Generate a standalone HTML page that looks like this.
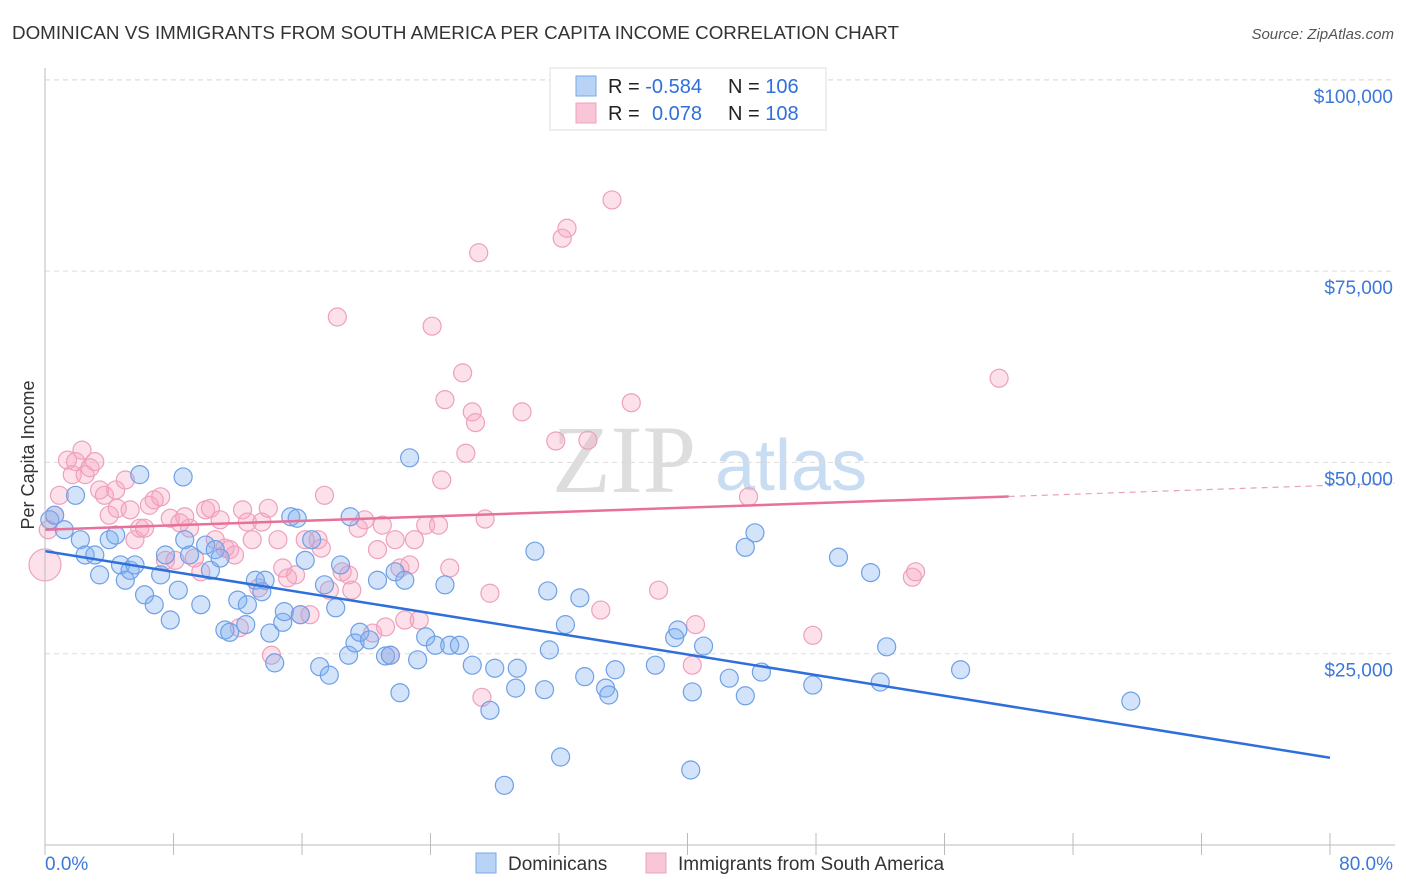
<!DOCTYPE html>
<html><head><meta charset="utf-8"><style>
body{margin:0;background:#fff;font-family:"Liberation Sans",sans-serif;}
#wrap{position:relative;width:1406px;height:892px;overflow:hidden;}
</style></head><body>
<div id="wrap">
<svg id="svg" width="1406" height="892" xmlns="http://www.w3.org/2000/svg">
<text x="12" y="39" font-size="18.8" fill="#333">DOMINICAN VS IMMIGRANTS FROM SOUTH AMERICA PER CAPITA INCOME CORRELATION CHART</text>
<text x="1394" y="39" font-size="15" fill="#555" font-style="italic" text-anchor="end">Source: ZipAtlas.com</text>
<text x="34" y="455" font-size="18" fill="#333" transform="rotate(-90 34 455)" text-anchor="middle">Per Capita Income</text>
<g><text x="552" y="492" font-size="96" fill="#ddd" font-family="Liberation Serif,serif">ZIP</text><text x="715" y="490" font-size="72" fill="#c8dcf2">atlas</text></g>
<g id="grid"></g><g id="pts"></g><g id="trend"></g><g id="axes"></g>
<g>
<rect x="550" y="68" width="276" height="62" fill="#fff" stroke="#ddd"/>
<rect x="576" y="76" width="20" height="20" fill="#b8d3f5" stroke="#7aaae8"/>
<rect x="576" y="103" width="20" height="20" fill="#f8c6d6" stroke="#f0a0bc"/>
<text x="608" y="93" font-size="20" fill="#222">R = <tspan fill="#2f6fdb">-0.584</tspan></text>
<text x="728" y="93" font-size="20" fill="#222">N = <tspan fill="#2f6fdb">106</tspan></text>
<text x="608" y="120" font-size="20" fill="#222">R = <tspan fill="#2f6fdb" x="652">0.078</tspan></text>
<text x="728" y="120" font-size="20" fill="#222">N = <tspan fill="#2f6fdb">108</tspan></text>
</g>
<g>
<rect x="476" y="853" width="20" height="20" fill="#b8d3f5" stroke="#7aaae8"/>
<text x="508" y="870" font-size="19" fill="#333">Dominicans</text>
<rect x="646" y="853" width="20" height="20" fill="#f8c6d6" stroke="#f0a0bc"/>
<text x="678" y="870" font-size="19" fill="#333">Immigrants from South America</text>
</g>
</svg>
</div>
<script>
const blueX=[0.3,0.6,1.2,1.9,2.2,2.5,3.1,3.4,4.0,4.4,4.7,5.0,5.3,5.6,5.9,6.2,6.8,7.2,7.5,7.8,8.3,8.6,8.7,9.0,9.7,10.0,10.3,10.6,10.9,11.2,11.5,12.0,12.5,12.6,13.1,13.5,13.7,14.0,14.3,14.8,14.9,15.3,15.7,15.9,16.2,16.6,17.1,17.4,17.7,18.1,18.4,18.9,19.0,19.3,19.6,20.2,20.7,21.2,21.5,21.8,22.1,22.4,22.7,23.2,23.7,24.3,24.9,25.2,25.8,26.6,27.7,28.0,28.6,29.3,29.4,30.5,31.1,31.3,31.4,32.1,32.4,33.3,33.6,34.9,35.1,35.5,38.0,39.2,39.4,40.2,40.3,41.0,42.6,43.6,43.6,44.2,44.6,47.8,49.4,51.4,52.0,52.4,57.0,67.6];
const blueY=[42.5,43.1,41.2,45.7,39.9,37.9,37.9,35.3,39.9,40.5,36.6,34.6,35.9,36.6,48.4,32.7,31.4,35.3,37.9,29.4,33.3,48.1,39.9,37.9,31.4,39.2,35.9,38.6,37.5,28.1,27.8,32.0,28.8,31.4,34.6,33.1,34.6,27.7,23.8,29.1,30.5,42.9,42.7,30.1,37.2,39.9,23.3,34.0,22.2,31.0,36.6,24.8,42.9,26.4,27.8,26.8,34.6,24.7,24.8,35.7,19.9,34.6,50.6,24.2,27.2,26.1,34.0,26.1,26.1,23.5,17.6,23.1,7.8,20.5,23.1,38.4,20.3,33.2,25.5,11.5,28.8,32.3,22.0,20.5,19.6,22.9,23.5,27.1,28.1,9.8,20.0,26.0,21.8,38.9,19.5,40.8,22.6,20.9,37.6,35.6,21.3,25.9,22.9,18.8];
const pinkX=[0,0.2,0.6,0.9,1.4,1.7,1.9,2.3,2.5,2.8,3.1,3.4,3.7,4.0,4.4,4.5,5.0,5.3,5.6,5.9,6.2,6.5,6.8,7.2,7.5,7.8,8.1,8.4,8.7,9.0,9.3,9.7,10.0,10.3,10.6,10.9,11.2,11.5,11.8,12.1,12.3,12.6,12.9,13.3,13.5,13.9,14.1,14.5,14.8,15.1,15.6,15.9,16.2,16.5,17.0,17.2,17.4,17.7,18.2,18.5,18.9,19.1,19.5,19.9,20.4,20.7,21.0,21.2,21.5,21.8,22.1,22.4,22.7,23.0,23.3,23.7,24.1,24.5,24.7,24.9,25.2,26.0,26.2,26.6,26.8,27.0,27.4,27.2,27.7,29.7,31.8,32.2,32.5,33.8,34.6,35.3,36.5,38.2,40.3,40.5,43.8,47.8,54.0,54.2,59.4];
const pinkY=[36.6,41.2,43.1,45.7,50.3,48.4,50.1,51.6,48.4,49.3,50.1,46.4,45.7,43.1,46.4,44.0,47.7,43.8,39.9,41.4,41.4,44.4,45.1,45.5,37.2,42.7,37.2,42.1,42.9,41.4,37.5,35.7,43.8,44.0,39.9,42.5,38.8,38.6,37.9,28.4,43.8,42.2,39.9,33.6,42.2,44.0,24.8,39.9,36.2,34.9,35.3,30.1,39.9,30.1,39.9,38.8,45.7,33.3,69.0,35.7,35.3,33.3,41.4,42.5,27.7,38.6,41.8,28.5,24.8,39.9,36.2,29.4,36.6,39.9,29.4,41.8,67.8,41.8,47.7,58.2,36.2,61.7,51.2,56.6,55.2,77.4,42.6,19.3,32.9,56.6,52.8,79.3,80.6,52.9,30.7,84.3,57.8,33.3,23.5,28.8,45.5,27.4,35.0,35.7,61.0];
const blueTrend=[38.4,11.4];
const pinkTrend=[41.2,47.0];
const yTicks=[25000,50000,75000,100000];
const yTickLabels=["$25,000","$50,000","$75,000","$100,000"];
const xTicks=[0,8,16,24,32,40,48,56,64,72,80];
const NS="http://www.w3.org/2000/svg";
const X=v=>45+v/80*1285;
const Y=k=>845-k/25*191.3;
function mk(tag,at,parent){const e=document.createElementNS(NS,tag);for(const k in at)e.setAttribute(k,at[k]);parent.appendChild(e);return e;}
const grid=document.getElementById('grid'),pts=document.getElementById('pts'),tr=document.getElementById('trend'),ax=document.getElementById('axes');
yTicks.forEach((t,i)=>{
 const l=mk('line',{x1:45,x2:1395,y1:Y(t/1000),y2:Y(t/1000),stroke:'#ddd','stroke-dasharray':'5,4'},grid);
 
 
 const tx=mk('text',{x:1393,y:Y(t/1000)+23,'text-anchor':'end','font-size':19,fill:'#3b78d8'},ax);
 tx.textContent=yTickLabels[i];
 
 
});
const topGrid=mk('line',{x1:45,x2:1395,y1:80,y2:80,stroke:'#ddd','stroke-dasharray':'5,4'},grid);


function dots(xs,ys,fill,stroke,name){xs.forEach((x,i)=>{
 const c=mk('circle',{cx:X(x),cy:Y(ys[i]),r:(x===0?16:9),fill:fill,stroke:stroke,'stroke-width':1.2},pts);
 
 
});}
dots(pinkX,pinkY,'rgba(245,165,195,0.35)','#eea0bc','immigrant-point');
dots(blueX,blueY,'rgba(125,175,240,0.35)','#6fa0e6','dominican-point');
const bl=mk('line',{x1:X(0),y1:Y(blueTrend[0]),x2:X(80),y2:Y(blueTrend[1]),stroke:'#2f6fdb','stroke-width':2.5},tr);


const py=x=>pinkTrend[0]+(pinkTrend[1]-pinkTrend[0])*x/80;
const pl=mk('line',{x1:X(0),y1:Y(py(0)),x2:X(60),y2:Y(py(60)),stroke:'#e8709a','stroke-width':2.5},tr);


const pd=mk('line',{x1:X(60),y1:Y(py(60)),x2:X(84),y2:Y(py(84)),stroke:'#e8a0ba','stroke-width':1.2,'stroke-dasharray':'6,5'},tr);


const ya=mk('line',{x1:45,x2:45,y1:68,y2:845,stroke:'#bbb'},ax);


const xa=mk('line',{x1:45,x2:1395,y1:845,y2:845,stroke:'#bbb'},ax);


xTicks.forEach(t=>{const l=mk('line',{x1:X(t),x2:X(t),y1:833,y2:855,stroke:'#bbb'},ax);
 
 });
const xMinLabel=mk('text',{x:45,y:870,'font-size':19,fill:'#3b78d8'},ax);xMinLabel.textContent='0.0%';


const xMaxLabel=mk('text',{x:1393,y:870,'font-size':19,fill:'#3b78d8','text-anchor':'end'},ax);xMaxLabel.textContent='80.0%';


</script>
</body></html>
